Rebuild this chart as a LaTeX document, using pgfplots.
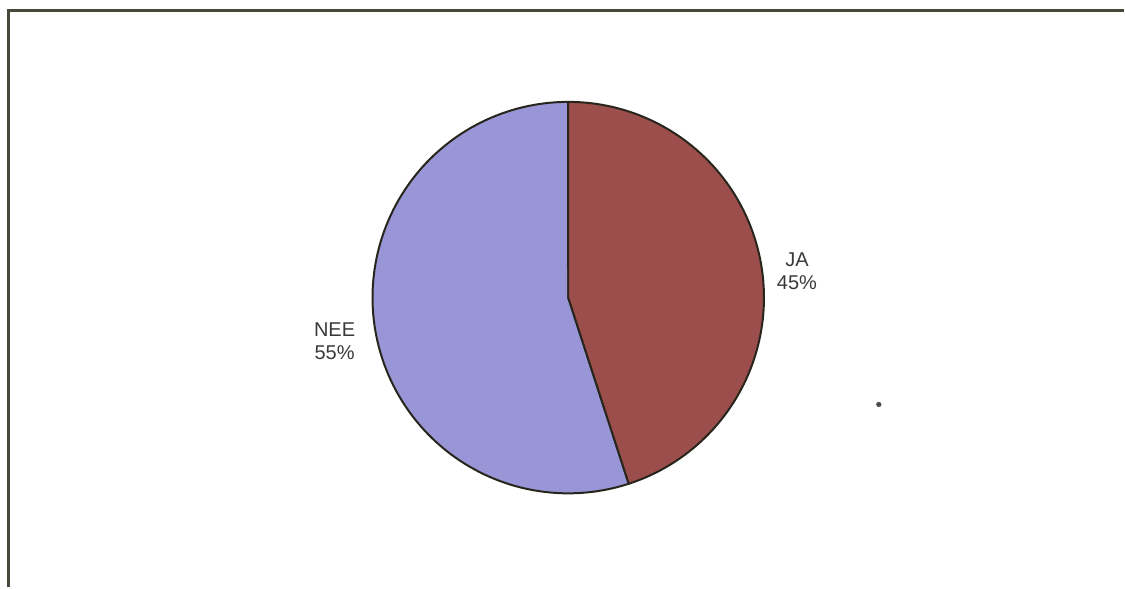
\documentclass[border=0pt]{standalone}
\usepackage{pgfplots}
\pgfplotsset{compat=1.18}
\usepackage{fontspec}
\setmainfont{Liberation Sans}
\definecolor{ja}{RGB}{155,78,76}
\definecolor{nee}{RGB}{152,150,214}
\definecolor{edge}{RGB}{40,38,28}
\definecolor{frame}{RGB}{70,72,58}
\definecolor{lbl}{RGB}{58,58,58}
\begin{document}
\begin{tikzpicture}
\begin{axis}[
  scale only axis, width=1125pt, height=588pt,
  xmin=0, xmax=1125, ymin=0, ymax=588, y dir=reverse,
  hide axis, clip=false,
]
% shares (percent)
\pgfmathsetmacro{\ja}{45}
\pgfmathsetmacro{\nee}{55}
\pgfmathsetmacro{\aend}{90-360*\ja/100}
% frame (scanned border: top and left)
\addplot[frame, line width=3pt, forget plot] coordinates {(9,588) (9,11) (1125,11)};
% NEE slice
\addplot[fill=nee, draw=edge, line width=2pt, line join=round, domain=\aend-360*\nee/100:\aend, samples=120, forget plot]
  ({569+196*cos(x)},{298-196*sin(x)}) -- (axis cs:569,298) -- cycle;
% JA slice
\addplot[fill=ja, draw=edge, line width=2pt, line join=round, domain=\aend:90, samples=100, forget plot]
  ({569+196*cos(x)},{298-196*sin(x)}) -- (axis cs:569,298) -- cycle;
% small scan speck
\addplot[only marks, mark=*, mark size=2.4pt, color=lbl!90, forget plot] coordinates {(880,405)};
\node[lbl, font=\fontsize{20}{23}\selectfont, align=center] at (axis cs:798,272) {JA\\45\%};
\node[lbl, font=\fontsize{20}{23}\selectfont, align=center] at (axis cs:335,342) {NEE\\55\%};
\end{axis}
\path (current axis.south west) rectangle (current axis.north east);
\end{tikzpicture}
\end{document}
